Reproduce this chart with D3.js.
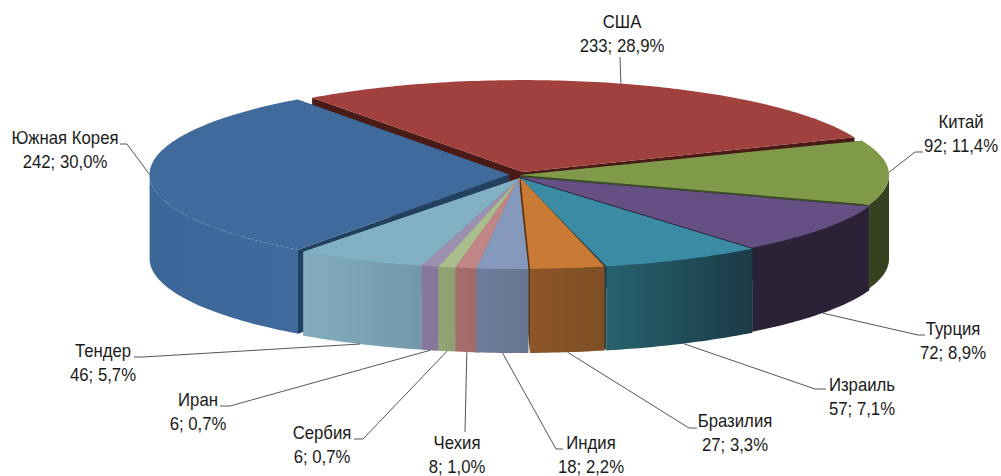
<!DOCTYPE html>
<html>
<head>
<meta charset="utf-8">
<script src="https://cdn.jsdelivr.net/npm/d3@7"></script>
<style>
    html, body { margin: 0; padding: 0; background: #fff; }
    svg { display: block; }
    text { font-family: "Liberation Sans", Arial, sans-serif; font-size: 18px; fill: #1a1a1a; text-anchor: middle; }
    .leader { fill: none; stroke: #555; stroke-width: 1; }
</style>
</head>
<body>
<script>
    "use strict";

    const countries = ["США", "Китай", "Турция", "Израиль", "Бразилия", "Индия", "Чехия", "Сербия", "Иран", "Тендер", "Южная Корея"];
    const amounts = [233, 92, 72, 57, 27, 18, 8, 6, 6, 46, 242];
    const shares = ["28,9%", "11,4%", "8,9%", "7,1%", "3,3%", "2,2%", "1,0%", "0,7%", "0,7%", "5,7%", "30,0%"];

    const topColors = ["#a0413e", "#7f9a48", "#664f82", "#3c8ba4", "#c97b36", "#8599bd", "#bf8685", "#aabd8c", "#9c8fb0", "#82b1c3", "#3f6a9b"];
    const sideFrom = ["#4a1a16", "#36421f", "#2c2238", "#26626e", "#8d5628", "#6d7d9a", "#a66e6c", "#93a474", "#88799c", "#82aec0", "#3b6697"];
    const sideTo = ["#4a1a16", "#36421f", "#2c2238", "#1b3a46", "#7d4e24", "#667690", "#a06a68", "#8f9f70", "#84769a", "#7397a8", "#3f6a9b"];
    const cutColors = ["#4a1a16", "#3d4d28", "#2c2238", "#1b3a46", "#5a3412", "#6d7d9a", "#a66e6c", "#93a474", "#88799c", "#6f9aab", "#24405f"];

    // how far each slice is pulled out, [dx, dy], and how it shrinks when pulled back, [sx, sy]
    const pulls = [[3, -5], [0, -2], [0, 0], [0, 1], [0.5, 1], [-1.5, 1], [0, 1], [0, 1], [0, 1], [0, 1], [-11, -2.5]];
    const shrink = [[0.97, 1.01], [1, 1], [1, 1], [1, 1], [0.97, 1], [1, 1], [1, 1], [1, 1], [1, 1], [1, 1], [0.974, 1.02]];

    // first baseline of each label, then the leader's elbow and where it ends by the text
    const labelAt = [[622, 28], [961, 128], [953, 335], [862, 391], [735, 427], [591, 449], [457, 449], [322, 439], [198, 406], [103, 357], [65, 144]];
    const elbows = [[620, 57], [915, 152], [918, 335], [815, 389], [689, 428], [556, 449], [465, 432], [363, 439], [230, 406], [143, 357], [127, 144]];
    const tails = [[620, 57], [923, 152], [925, 335], [826, 389], [697, 428], [563, 449], [465, 432], [354, 439], [220, 406], [134, 357], [120, 144]];

    const width = 1001;
    const height = 476;
    const cx = 520;
    const cy = 177;
    const rx = 369;
    const ry = 91;
    const depth = 84;

    const svg = d3.select("body").append("svg")
        .attr("width", width)
        .attr("height", height);

    const defs = svg.append("defs");

    const slices = d3.pie().sort(null)
        .startAngle(-36.1 * Math.PI / 180)
        .endAngle((360 - 36.1) * Math.PI / 180)(amounts);

    function project(index, r, angle, z) {
        return [
            cx + pulls[index][0] + rx * shrink[index][0] * r * Math.sin(angle),
            cy + pulls[index][1] - ry * shrink[index][1] * r * Math.cos(angle) + z * depth
        ];
    }

    const line = d3.line();

    function arcPoints(index, from, to, z) {
        const steps = Math.max(2, Math.ceil(Math.abs(to - from) * 60));
        return d3.range(steps + 1).map(k => project(index, 1, from + (to - from) * k / steps, z));
    }

    function drawSlice(d) {
        const i = d.index;
        const g = svg.append("g").attr("class", "slice");

        // cut faces, only seen through the gaps
        for (const angle of [d.startAngle, d.endAngle]) {
            g.append("path")
                .attr("d", line([project(i, 0, 0, 0), project(i, 1, angle, 0), project(i, 1, angle, 1), project(i, 0, 0, 1)]) + "Z")
                .attr("fill", cutColors[i]);
        }

        // outer wall, front half of the ellipse only
        const from = Math.max(d.startAngle, Math.PI / 2);
        const to = Math.min(d.endAngle, Math.PI * 1.5);
        if (to > from) {
            const id = `side-${i}`;
            const gradient = defs.append("linearGradient").attr("id", id);
            gradient.append("stop").attr("offset", 0).attr("stop-color", sideFrom[i]);
            gradient.append("stop").attr("offset", 1).attr("stop-color", sideTo[i]);
            g.append("path")
                .attr("d", line(arcPoints(i, from, to, 0).concat(arcPoints(i, to, from, 1))) + "Z")
                .attr("fill", `url(#${id})`);
        }

        // top
        g.append("path")
            .attr("d", line([project(i, 0, 0, 0)].concat(arcPoints(i, d.startAngle, d.endAngle, 0))) + "Z")
            .attr("fill", topColors[i]);
    }

    // back to front, the thin front slices last so they cover the neighbours' cut faces
    const paintOrder = [0, 10, 1, 2, 3, 4, 9, 8, 7, 6, 5];
    paintOrder.forEach(i => drawSlice(slices[i]));

    slices.forEach(d => {
        const i = d.index;
        const mid = (d.startAngle + d.endAngle) / 2;
        const front = Math.cos(mid) < 0 && Math.abs(Math.sin(mid)) < 0.99;
        const start = project(i, 1, mid, front ? 1 : 0);

        svg.append("path")
            .attr("class", "leader")
            .attr("d", line([start, elbows[i], tails[i]]));

        const label = svg.append("g")
            .attr("transform", `translate(${labelAt[i][0]},${labelAt[i][1]}) scale(0.93,1)`);
        label.append("text").text(countries[i]);
        label.append("text").attr("y", 24).text(`${amounts[i]}; ${shares[i]}`);
    });
</script>
</body>
</html>
